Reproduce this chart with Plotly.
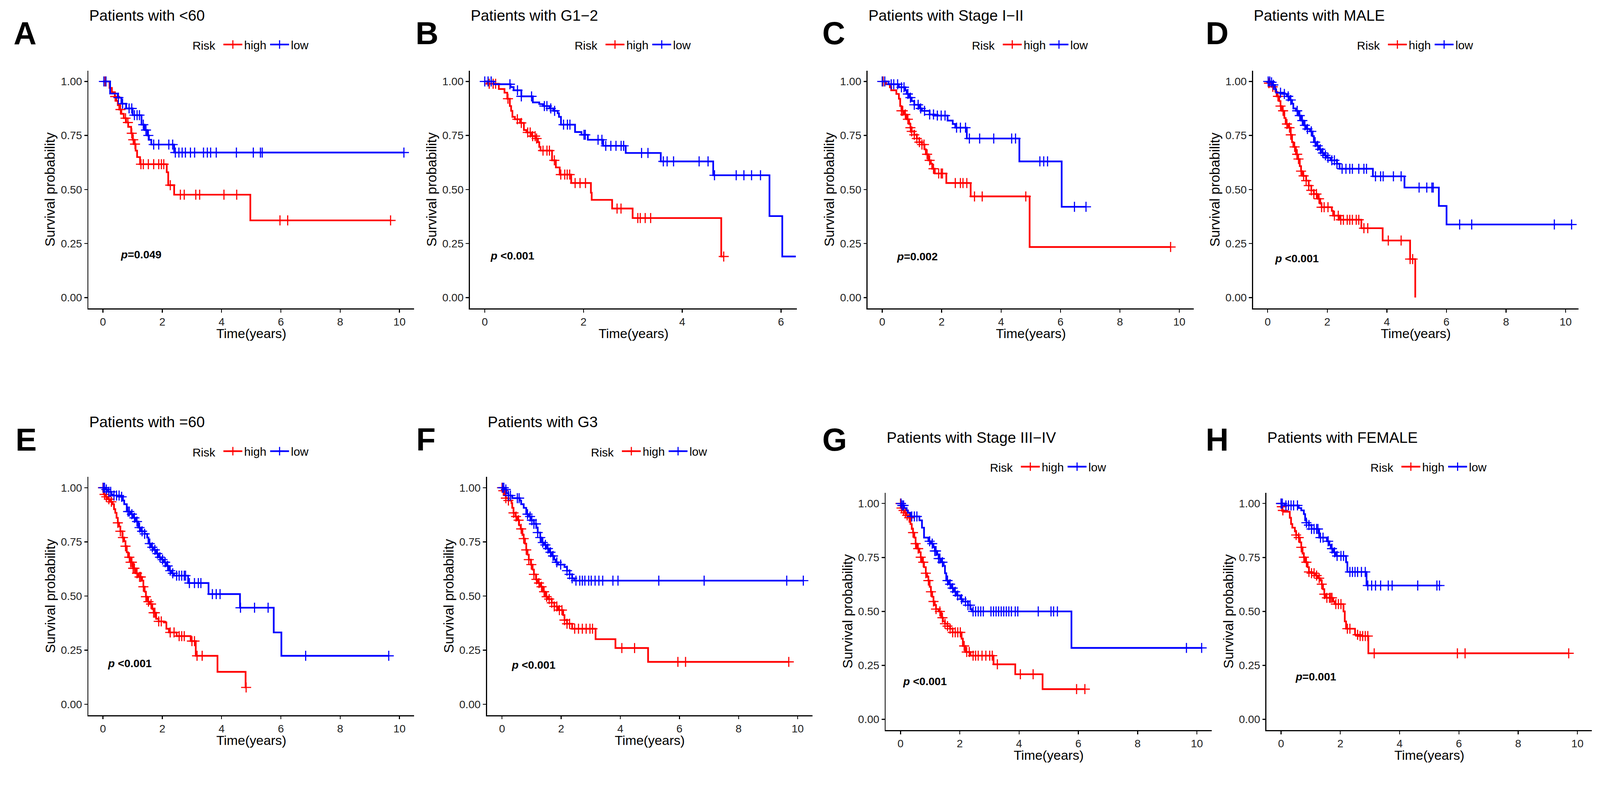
import numpy as np
import plotly.graph_objects as go

# ---------------- DATA ----------------
LETTERS = ["A", "B", "C", "D", "E", "F", "G", "H"]
TITLES = ["Patients with &lt;60", "Patients with G1\u22122", "Patients with Stage I\u2212II",
          "Patients with MALE", "Patients with =60", "Patients with G3",
          "Patients with Stage III\u2212IV", "Patients with FEMALE"]
PVALUES = ["=0.049", " &lt;0.001", "=0.002", " &lt;0.001", " &lt;0.001", " &lt;0.001", " &lt;0.001", "=0.001"]
GROUPS = ["high", "low"]
LEGEND_TITLE = "Risk"
X_LABEL = "Time(years)"
Y_LABEL = "Survival probability"
X_TICKS_10 = [0, 2, 4, 6, 8, 10]
X_TICKS_6 = [0, 2, 4, 6]
Y_TICKS = [0.0, 0.25, 0.50, 0.75, 1.00]
Y_TICK_TEXT = ["0.00", "0.25", "0.50", "0.75", "1.00"]

# Panel A  (<60)
A_high_t = [0.22, 0.30, 0.40, 0.45, 0.50, 0.55, 0.62, 0.70, 0.78, 0.85, 0.95, 1.00, 1.05, 1.10, 1.15, 1.25, 2.15, 2.20, 2.40, 4.97]
A_high_s = [0.97, 0.95, 0.93, 0.91, 0.89, 0.87, 0.85, 0.83, 0.81, 0.79, 0.76, 0.73, 0.71, 0.68, 0.65, 0.617, 0.58, 0.52, 0.476, 0.357]
A_high_c = [0.07, 0.41, 0.59, 0.76, 0.84, 0.97, 1.02, 1.08, 1.28, 1.36, 1.53, 1.71, 1.88, 1.97, 2.05, 2.27, 2.61, 2.74, 3.13, 3.26, 4.08, 4.51, 5.97, 6.23, 9.70]
A_low_t = [0.24, 0.50, 0.62, 0.78, 1.00, 1.30, 1.40, 1.50, 1.55, 1.63, 2.40]
A_low_s = [0.944, 0.925, 0.897, 0.875, 0.844, 0.80, 0.775, 0.75, 0.73, 0.708, 0.671]
A_low_c = [0.03, 0.10, 0.52, 0.66, 0.88, 0.97, 1.06, 1.15, 1.23, 1.36, 1.45, 1.53, 1.71, 1.88, 2.22, 2.35, 2.44, 2.56, 2.67, 2.78, 2.95, 3.09, 3.39, 3.52, 3.63, 3.82, 4.50, 5.07, 5.31, 5.37, 10.15]

# Panel B  (G1-2)
B_high_t = [0.05, 0.285, 0.40, 0.456, 0.508, 0.534, 0.56, 0.611, 0.715, 0.793, 0.845, 0.948, 1.026, 1.078, 1.104, 1.13, 1.363, 1.44, 1.518, 1.751, 2.15, 2.166, 2.58, 2.995, 4.79]
B_high_s = [0.989, 0.965, 0.948, 0.92, 0.886, 0.864, 0.836, 0.825, 0.808, 0.775, 0.764, 0.747, 0.736, 0.719, 0.697, 0.68, 0.635, 0.602, 0.569, 0.53, 0.485, 0.452, 0.412, 0.368, 0.19]
B_high_c = [0.09, 0.17, 0.22, 0.47, 0.66, 0.74, 0.87, 0.92, 0.97, 1.02, 1.05, 1.18, 1.26, 1.31, 1.41, 1.54, 1.62, 1.67, 1.72, 1.83, 1.93, 2.04, 2.68, 2.76, 3.10, 3.15, 3.25, 3.36, 4.84]
B_low_t = [0.181, 0.523, 0.585, 0.741, 0.974, 1.104, 1.181, 1.311, 1.389, 1.477, 1.503, 1.544, 1.829, 1.959, 2.088, 2.399, 2.855, 3.565, 4.627, 5.767, 6.026]
B_low_s = [0.987, 0.974, 0.959, 0.931, 0.903, 0.895, 0.886, 0.875, 0.864, 0.853, 0.836, 0.80, 0.766, 0.753, 0.73, 0.702, 0.669, 0.63, 0.566, 0.377, 0.19]
B_low_c = [0.0, 0.067, 0.13, 0.51, 0.663, 0.741, 0.948, 1.207, 1.259, 1.337, 1.415, 1.596, 1.674, 1.725, 2.01, 2.036, 2.295, 2.373, 2.451, 2.554, 2.658, 2.762, 2.813, 3.176, 3.306, 3.617, 3.694, 3.824, 4.342, 4.523, 4.653, 5.093, 5.249, 5.404, 5.585]
B_low_last = 6.30

# Panel C  (Stage I-II)
C_high_t = [0.129, 0.259, 0.302, 0.475, 0.561, 0.604, 0.647, 0.733, 0.82, 0.906, 0.949, 0.992, 1.078, 1.165, 1.251, 1.337, 1.424, 1.467, 1.553, 1.639, 1.682, 1.769, 2.157, 2.977, 4.961]
C_high_s = [0.987, 0.973, 0.959, 0.942, 0.92, 0.886, 0.864, 0.847, 0.825, 0.803, 0.786, 0.769, 0.753, 0.736, 0.719, 0.708, 0.686, 0.663, 0.635, 0.619, 0.596, 0.574, 0.53, 0.468, 0.234]
C_high_c = [0.03, 0.647, 0.69, 0.777, 0.863, 0.949, 0.992, 1.079, 1.165, 1.251, 1.337, 1.406, 1.51, 1.596, 1.726, 1.9, 1.984, 2.028, 2.459, 2.632, 2.718, 2.847, 3.106, 3.365, 4.832, 9.707]
C_low_t = [0.216, 0.561, 0.777, 0.82, 0.906, 0.992, 1.078, 1.251, 1.337, 1.596, 1.769, 2.2, 2.373, 2.459, 2.847, 4.616, 6.04]
C_low_s = [0.987, 0.973, 0.959, 0.942, 0.925, 0.909, 0.892, 0.875, 0.864, 0.847, 0.842, 0.819, 0.803, 0.786, 0.736, 0.63, 0.42]
C_low_c = [0.0, 0.086, 0.302, 0.388, 0.518, 0.647, 0.733, 0.863, 0.949, 1.079, 1.208, 1.294, 1.424, 1.596, 1.726, 1.855, 1.984, 2.114, 2.502, 2.632, 2.804, 2.934, 3.279, 3.753, 4.357, 4.487, 5.306, 5.436, 5.565, 6.471, 6.859]

# Panel D  (MALE)
D_high_t = [0.03, 0.129, 0.258, 0.301, 0.388, 0.431, 0.474, 0.56, 0.603, 0.689, 0.775, 0.818, 0.861, 0.947, 0.991, 1.077, 1.12, 1.163, 1.292, 1.378, 1.464, 1.55, 1.68, 1.766, 1.809, 2.153, 2.196, 2.412, 3.144, 3.859, 4.78, 4.953]
D_high_s = [0.992, 0.975, 0.953, 0.931, 0.909, 0.886, 0.864, 0.831, 0.803, 0.786, 0.753, 0.719, 0.697, 0.663, 0.641, 0.608, 0.585, 0.563, 0.541, 0.518, 0.496, 0.479, 0.457, 0.435, 0.418, 0.401, 0.379, 0.36, 0.321, 0.264, 0.178, 0.0]
D_high_c = [0.043, 0.172, 0.345, 0.431, 0.517, 0.646, 0.732, 0.775, 0.904, 0.99, 1.034, 1.12, 1.206, 1.292, 1.378, 1.464, 1.55, 1.637, 1.723, 1.809, 1.895, 2.024, 2.239, 2.369, 2.455, 2.541, 2.67, 2.756, 2.842, 2.972, 3.058, 3.23, 3.359, 4.048, 4.479, 4.78, 4.866]
D_low_t = [0.086, 0.172, 0.241, 0.284, 0.517, 0.646, 0.732, 0.818, 0.861, 0.947, 1.034, 1.12, 1.206, 1.292, 1.421, 1.507, 1.55, 1.637, 1.723, 1.809, 1.895, 1.981, 2.11, 2.326, 2.412, 3.531, 4.591, 5.745, 6.003]
D_low_s = [0.996, 0.984, 0.964, 0.948, 0.942, 0.931, 0.914, 0.897, 0.875, 0.864, 0.842, 0.819, 0.797, 0.78, 0.769, 0.747, 0.719, 0.702, 0.686, 0.669, 0.658, 0.647, 0.635, 0.619, 0.596, 0.561, 0.509, 0.424, 0.338]
D_low_c = [0.017, 0.069, 0.129, 0.189, 0.431, 0.56, 0.689, 0.775, 0.99, 1.077, 1.163, 1.249, 1.335, 1.464, 1.593, 1.68, 1.766, 1.852, 1.938, 2.024, 2.153, 2.239, 2.326, 2.498, 2.627, 2.756, 2.842, 3.058, 3.23, 3.316, 3.618, 3.79, 3.876, 4.22, 4.479, 5.082, 5.34, 5.512, 5.556, 6.443, 6.848, 9.621, 10.20]

# Panel E  (=60)
E_high_t = [0.01, 0.026, 0.086, 0.155, 0.241, 0.328, 0.371, 0.414, 0.457, 0.5, 0.543, 0.586, 0.655, 0.716, 0.759, 0.802, 0.845, 0.931, 1.017, 1.103, 1.19, 1.319, 1.362, 1.405, 1.448, 1.491, 1.578, 1.664, 1.707, 1.793, 1.879, 2.052, 2.138, 2.224, 2.483, 2.957, 3.129, 3.862, 4.81]
E_high_s = [0.986, 0.969, 0.958, 0.947, 0.935, 0.924, 0.901, 0.884, 0.861, 0.838, 0.821, 0.799, 0.77, 0.753, 0.73, 0.702, 0.679, 0.656, 0.628, 0.605, 0.588, 0.571, 0.543, 0.52, 0.497, 0.474, 0.463, 0.44, 0.423, 0.395, 0.383, 0.378, 0.349, 0.332, 0.315, 0.292, 0.224, 0.15, 0.078]
E_high_c = [0.0, 0.052, 0.112, 0.198, 0.284, 0.5, 0.586, 0.672, 0.759, 0.888, 0.931, 0.974, 1.017, 1.06, 1.147, 1.233, 1.276, 1.362, 1.448, 1.534, 1.621, 1.707, 1.75, 1.879, 1.966, 2.267, 2.397, 2.569, 2.655, 2.741, 3.0, 3.086, 3.172, 3.345, 4.828]
E_low_t = [0.069, 0.155, 0.284, 0.328, 0.586, 0.672, 0.716, 0.802, 0.931, 1.017, 1.103, 1.19, 1.276, 1.405, 1.491, 1.534, 1.621, 1.707, 1.793, 1.879, 1.966, 2.052, 2.138, 2.224, 2.31, 2.397, 2.871, 3.56, 4.621, 5.759, 6.017]
E_low_s = [0.992, 0.981, 0.969, 0.964, 0.958, 0.941, 0.924, 0.89, 0.878, 0.861, 0.844, 0.816, 0.799, 0.787, 0.77, 0.742, 0.725, 0.713, 0.696, 0.679, 0.668, 0.656, 0.639, 0.617, 0.605, 0.594, 0.56, 0.509, 0.446, 0.332, 0.224]
E_low_c = [0.009, 0.052, 0.112, 0.198, 0.259, 0.371, 0.457, 0.543, 0.629, 0.845, 0.888, 0.974, 1.06, 1.147, 1.233, 1.319, 1.405, 1.578, 1.664, 1.75, 1.836, 1.922, 2.009, 2.095, 2.181, 2.267, 2.353, 2.483, 2.569, 2.655, 2.741, 2.784, 2.914, 3.086, 3.216, 3.302, 3.69, 3.819, 3.948, 4.638, 5.112, 5.569, 6.836, 9.638]

# Panel F  (G3)
F_high_t = [0.02, 0.086, 0.129, 0.216, 0.319, 0.345, 0.388, 0.448, 0.517, 0.578, 0.629, 0.69, 0.733, 0.776, 0.819, 0.862, 0.905, 0.974, 1.034, 1.078, 1.147, 1.207, 1.293, 1.379, 1.466, 1.552, 1.681, 1.767, 1.897, 2.069, 2.112, 2.198, 2.371, 3.164, 3.836, 4.94]
F_high_s = [0.986, 0.969, 0.952, 0.941, 0.929, 0.907, 0.884, 0.867, 0.85, 0.827, 0.81, 0.782, 0.765, 0.742, 0.713, 0.691, 0.668, 0.645, 0.622, 0.6, 0.577, 0.56, 0.543, 0.52, 0.497, 0.486, 0.469, 0.452, 0.435, 0.412, 0.389, 0.372, 0.349, 0.301, 0.26, 0.196]
F_high_c = [0.0, 0.043, 0.129, 0.216, 0.388, 0.474, 0.56, 0.647, 0.733, 0.819, 0.905, 0.991, 1.078, 1.164, 1.25, 1.336, 1.422, 1.509, 1.595, 1.681, 1.767, 1.853, 1.94, 2.026, 2.112, 2.198, 2.284, 2.457, 2.586, 2.716, 2.845, 2.974, 3.06, 4.052, 4.483, 5.948, 6.207, 9.698]
F_low_t = [0.086, 0.147, 0.216, 0.345, 0.603, 0.647, 0.733, 0.819, 0.905, 0.991, 1.078, 1.164, 1.207, 1.293, 1.336, 1.422, 1.509, 1.595, 1.681, 1.767, 1.81, 1.897, 2.112, 2.198, 2.284, 2.371, 2.44]
F_low_s = [0.992, 0.975, 0.964, 0.952, 0.941, 0.924, 0.907, 0.878, 0.867, 0.85, 0.833, 0.816, 0.793, 0.77, 0.747, 0.736, 0.719, 0.702, 0.685, 0.668, 0.656, 0.645, 0.634, 0.617, 0.6, 0.582, 0.571]
F_low_c = [0.017, 0.06, 0.129, 0.216, 0.284, 0.517, 0.578, 0.862, 0.948, 1.009, 1.078, 1.147, 1.207, 1.293, 1.379, 1.466, 1.552, 1.638, 1.724, 1.853, 1.983, 2.198, 2.284, 2.371, 2.5, 2.629, 2.716, 2.802, 2.931, 3.017, 3.147, 3.276, 3.405, 3.75, 3.922, 5.302, 6.836, 9.629, 10.19]

# Panel G  (Stage III-IV)
G_high_t = [0.01, 0.052, 0.121, 0.207, 0.293, 0.336, 0.379, 0.422, 0.466, 0.509, 0.552, 0.638, 0.681, 0.724, 0.793, 0.853, 0.897, 0.94, 0.983, 1.026, 1.069, 1.112, 1.155, 1.198, 1.284, 1.371, 1.431, 1.5, 1.586, 1.672, 1.759, 2.06, 2.103, 2.19, 2.362, 3.138, 3.871, 4.793]
G_high_s = [0.979, 0.968, 0.957, 0.945, 0.934, 0.905, 0.882, 0.865, 0.842, 0.814, 0.791, 0.774, 0.751, 0.728, 0.705, 0.677, 0.66, 0.643, 0.614, 0.591, 0.568, 0.546, 0.529, 0.511, 0.5, 0.471, 0.454, 0.443, 0.432, 0.42, 0.403, 0.374, 0.34, 0.312, 0.295, 0.255, 0.209, 0.14]
G_high_c = [0.0, 0.034, 0.103, 0.164, 0.224, 0.293, 0.422, 0.509, 0.595, 0.681, 0.767, 0.853, 0.94, 1.026, 1.112, 1.198, 1.328, 1.414, 1.5, 1.586, 1.672, 1.759, 1.845, 1.931, 2.017, 2.147, 2.233, 2.319, 2.448, 2.534, 2.621, 2.75, 2.879, 3.009, 3.095, 3.267, 4.043, 4.474, 5.94, 6.22]
G_low_t = [0.034, 0.121, 0.207, 0.25, 0.336, 0.638, 0.724, 0.793, 0.94, 1.026, 1.112, 1.155, 1.241, 1.284, 1.371, 1.457, 1.5, 1.543, 1.629, 1.716, 1.802, 1.888, 2.017, 2.103, 2.276, 2.362, 2.405, 5.767]
G_low_s = [0.991, 0.979, 0.968, 0.957, 0.94, 0.922, 0.888, 0.842, 0.825, 0.814, 0.797, 0.78, 0.763, 0.745, 0.728, 0.711, 0.677, 0.643, 0.626, 0.608, 0.591, 0.574, 0.557, 0.546, 0.529, 0.511, 0.5, 0.331]
G_low_c = [0.017, 0.06, 0.103, 0.379, 0.466, 0.552, 0.983, 1.069, 1.155, 1.198, 1.284, 1.328, 1.414, 1.586, 1.672, 1.759, 1.845, 1.931, 2.06, 2.19, 2.276, 2.345, 2.448, 2.534, 2.621, 2.707, 2.793, 3.052, 3.138, 3.224, 3.31, 3.397, 3.483, 3.569, 3.655, 3.741, 3.871, 3.957, 4.647, 5.078, 5.164, 5.293, 9.647, 10.16]

# Panel H  (FEMALE)
H_high_t = [0.01, 0.035, 0.078, 0.294, 0.337, 0.38, 0.466, 0.509, 0.596, 0.639, 0.682, 0.725, 0.769, 0.812, 0.898, 0.941, 1.028, 1.157, 1.244, 1.33, 1.373, 1.416, 1.459, 1.503, 1.762, 1.805, 2.107, 2.15, 2.193, 2.496, 2.625, 2.945]
H_high_s = [0.985, 0.968, 0.962, 0.934, 0.905, 0.888, 0.871, 0.854, 0.842, 0.82, 0.797, 0.768, 0.751, 0.728, 0.705, 0.683, 0.677, 0.666, 0.654, 0.643, 0.626, 0.603, 0.58, 0.563, 0.546, 0.534, 0.5, 0.454, 0.42, 0.392, 0.386, 0.306]
H_high_c = [0.0, 0.026, 0.06, 0.509, 0.596, 0.682, 0.769, 0.855, 0.941, 1.028, 1.114, 1.2, 1.287, 1.373, 1.459, 1.546, 1.632, 1.675, 1.718, 1.848, 1.934, 2.021, 2.237, 2.323, 2.582, 2.668, 2.755, 2.841, 2.927, 3.143, 5.95, 6.209, 9.706]
H_low_t = [0.121, 0.596, 0.682, 0.769, 0.812, 0.855, 0.941, 1.028, 1.287, 1.546, 1.632, 1.675, 1.762, 1.848, 2.193, 2.237, 2.884]
H_low_s = [0.991, 0.979, 0.968, 0.951, 0.922, 0.911, 0.9, 0.882, 0.842, 0.825, 0.808, 0.791, 0.774, 0.757, 0.728, 0.683, 0.62]
H_low_c = [0.0, 0.043, 0.164, 0.25, 0.337, 0.423, 0.553, 0.855, 0.941, 1.028, 1.114, 1.2, 1.244, 1.33, 1.416, 1.589, 1.718, 1.805, 1.891, 2.021, 2.107, 2.323, 2.409, 2.496, 2.582, 2.712, 2.841, 2.927, 3.057, 3.187, 3.359, 3.618, 3.748, 4.611, 5.259, 5.345]

CURVES = {
    "A": [(A_high_t, A_high_s, A_high_c, None), (A_low_t, A_low_s, A_low_c, None)],
    "B": [(B_high_t, B_high_s, B_high_c, None), (B_low_t, B_low_s, B_low_c, B_low_last)],
    "C": [(C_high_t, C_high_s, C_high_c, None), (C_low_t, C_low_s, C_low_c, None)],
    "D": [(D_high_t, D_high_s, D_high_c, None), (D_low_t, D_low_s, D_low_c, None)],
    "E": [(E_high_t, E_high_s, E_high_c, None), (E_low_t, E_low_s, E_low_c, None)],
    "F": [(F_high_t, F_high_s, F_high_c, None), (F_low_t, F_low_s, F_low_c, None)],
    "G": [(G_high_t, G_high_s, G_high_c, None), (G_low_t, G_low_s, G_low_c, None)],
    "H": [(H_high_t, H_high_s, H_high_c, None), (H_low_t, H_low_s, H_low_c, None)],
}

# ---------------- LAYOUT / STYLE ----------------
W, H = 4232, 2052
COLORS = ["#FF0000", "#0000FF"]
FONT = "Liberation Sans, Arial, Helvetica, sans-serif"

ROW1 = (186.7, 815.2)
ROW2a = (1260.7, 1890.6)
ROW2b = (1302.5, 1930.2)
PANELS = [
    dict(box=(234, 1095) + ROW1, xr=[-0.49, 10.49], ticks=X_TICKS_10, ty=41, ly=118, letter=(34, 88), p=(0.57, 0.199)),
    dict(box=(1243, 2107.5) + ROW1, xr=[-0.30, 6.32], ticks=X_TICKS_6, ty=41, ly=118, letter=(1097, 88), p=(0.10, 0.194)),
    dict(box=(2295, 3157) + ROW1, xr=[-0.49, 10.48], ticks=X_TICKS_10, ty=41, ly=118, letter=(2173, 88), p=(0.46, 0.19)),
    dict(box=(3314.4, 4175) + ROW1, xr=[-0.49, 10.43], ticks=X_TICKS_10, ty=41, ly=118, letter=(3187, 88), p=(0.22, 0.181)),
    dict(box=(234, 1095) + ROW2a, xr=[-0.49, 10.49], ticks=X_TICKS_10, ty=1115, ly=1193, letter=(39, 1162), p=(0.14, 0.188)),
    dict(box=(1288, 2149) + ROW2a, xr=[-0.51, 10.50], ticks=X_TICKS_10, ty=1115, ly=1193, letter=(1099, 1162), p=(0.29, 0.181)),
    dict(box=(2342.7, 3205) + ROW2b, xr=[-0.50, 10.50], ticks=X_TICKS_10, ty=1157, ly=1234, letter=(2173, 1162), p=(0.05, 0.177)),
    dict(box=(3350, 4210.7) + ROW2b, xr=[-0.49, 10.49], ticks=X_TICKS_10, ty=1157, ly=1234, letter=(3187, 1162), p=(0.46, 0.197)),
]


def px_x(v):
    return v / W


def px_y(v):
    return 1 - v / H


def step_xy(t, s, c, last):
    end = max([t[-1]] + list(c) + ([last] if last is not None else []))
    return [0.0] + list(t) + [end], [1.0] + list(s) + [s[-1]]


def censor_y(t, s, c):
    t = np.asarray(t)
    s = np.asarray(s)
    idx = np.searchsorted(t, np.asarray(c), side="right") - 1
    return np.where(idx >= 0, s[np.clip(idx, 0, None)], 1.0)


LINE_W = 4.5
MARK = dict(symbol="cross-thin", size=19)
MARK_W = 3.0

fig = go.Figure()
annotations = []
layout = dict(
    width=W, height=H, autosize=False,
    margin=dict(l=0, r=0, t=0, b=0),
    paper_bgcolor="white", plot_bgcolor="white",
    font=dict(family=FONT, color="black"),
    showlegend=True,
)

for i, (letter, cfg) in enumerate(zip(LETTERS, PANELS)):
    sfx = "" if i == 0 else str(i + 1)
    xa, ya = "x" + sfx, "y" + sfx
    leg = "legend" + sfx
    left, right, top, bottom = cfg["box"]

    for g, (t, s, c, last) in enumerate(CURVES[letter]):
        xs, ys = step_xy(t, s, c, last)
        fig.add_trace(go.Scatter(x=xs, y=ys, mode="lines", line=dict(color=COLORS[g], width=LINE_W, shape="hv"),
                                 xaxis=xa, yaxis=ya, showlegend=False, hoverinfo="skip"))
        fig.add_trace(go.Scatter(x=c, y=censor_y(t, s, c), mode="markers",
                                 marker=dict(color=COLORS[g], line=dict(color=COLORS[g], width=MARK_W), **MARK),
                                 xaxis=xa, yaxis=ya, showlegend=False, hoverinfo="skip"))
        fig.add_trace(go.Scatter(x=[None], y=[None], mode="lines+markers", name=GROUPS[g],
                                 line=dict(color=COLORS[g], width=LINE_W),
                                 marker=dict(color=COLORS[g], line=dict(color=COLORS[g], width=MARK_W), **MARK),
                                 xaxis=xa, yaxis=ya, legend=leg, showlegend=True))

    axis_common = dict(showline=True, linecolor="black", linewidth=3, ticks="outside", ticklen=8,
                       tickwidth=2.5, tickcolor="black", showgrid=False, zeroline=False,
                       tickfont=dict(size=29, color="#222222", family=FONT), fixedrange=True)
    layout["xaxis" + sfx] = dict(domain=[px_x(left), px_x(right)], range=cfg["xr"], anchor=ya,
                                 tickvals=cfg["ticks"], **axis_common)
    layout["yaxis" + sfx] = dict(domain=[px_y(bottom), px_y(top)], range=[-0.05, 1.05], anchor=xa,
                                 tickvals=Y_TICKS, ticktext=Y_TICK_TEXT, **axis_common)

    layout[leg] = dict(orientation="h", x=px_x((left + right) / 2), y=px_y(cfg["ly"]),
                       xanchor="center", yanchor="middle", bgcolor="rgba(0,0,0,0)",
                       title=dict(text=LEGEND_TITLE + " ", side="left", font=dict(size=31, family=FONT)),
                       font=dict(size=31, family=FONT, color="black"), itemwidth=50)

    annotations.append(dict(text=TITLES[i], xref="paper", yref="paper", x=px_x(left), y=px_y(cfg["ty"]),
                            xanchor="left", yanchor="middle", showarrow=False, font=dict(size=40, family=FONT)))
    lx, ly = cfg["letter"]
    annotations.append(dict(text="<b>" + letter + "</b>", xref="paper", yref="paper", x=px_x(lx), y=px_y(ly),
                            xanchor="left", yanchor="middle", showarrow=False, font=dict(size=84, family=FONT)))
    annotations.append(dict(text=X_LABEL, xref=xa + " domain", yref=ya + " domain", x=0.5, y=0, yshift=-66,
                            xanchor="center", yanchor="middle", showarrow=False, font=dict(size=35, family=FONT)))
    annotations.append(dict(text=Y_LABEL, xref=xa + " domain", yref=ya + " domain", x=0, xshift=-101, y=0.5,
                            textangle=-90, xanchor="center", yanchor="middle", showarrow=False,
                            font=dict(size=36, family=FONT)))
    annotations.append(dict(text="<b><i>p</i>" + PVALUES[i] + "</b>", xref=xa, yref=ya, x=cfg["p"][0], y=cfg["p"][1],
                            xanchor="left", yanchor="middle", showarrow=False, font=dict(size=29, family=FONT)))

layout["annotations"] = annotations
fig.update_layout(**layout)

# scale the fixed-size figure so that it fits the browser viewport exactly
FIT_JS = """
(function(){
  var gd = document.getElementById('{plot_id}');
  document.documentElement.style.margin = '0';
  document.documentElement.style.overflow = 'hidden';
  document.body.style.margin = '0';
  document.body.style.overflow = 'hidden';
  var s = Math.min(window.innerWidth / %d, window.innerHeight / %d);
  gd.style.transformOrigin = '0 0';
  gd.style.transform = 'scale(' + s + ')';
})();
""" % (W, H)

fig.write_html("out.html", post_script=FIT_JS, config={"displayModeBar": False, "staticPlot": True})
